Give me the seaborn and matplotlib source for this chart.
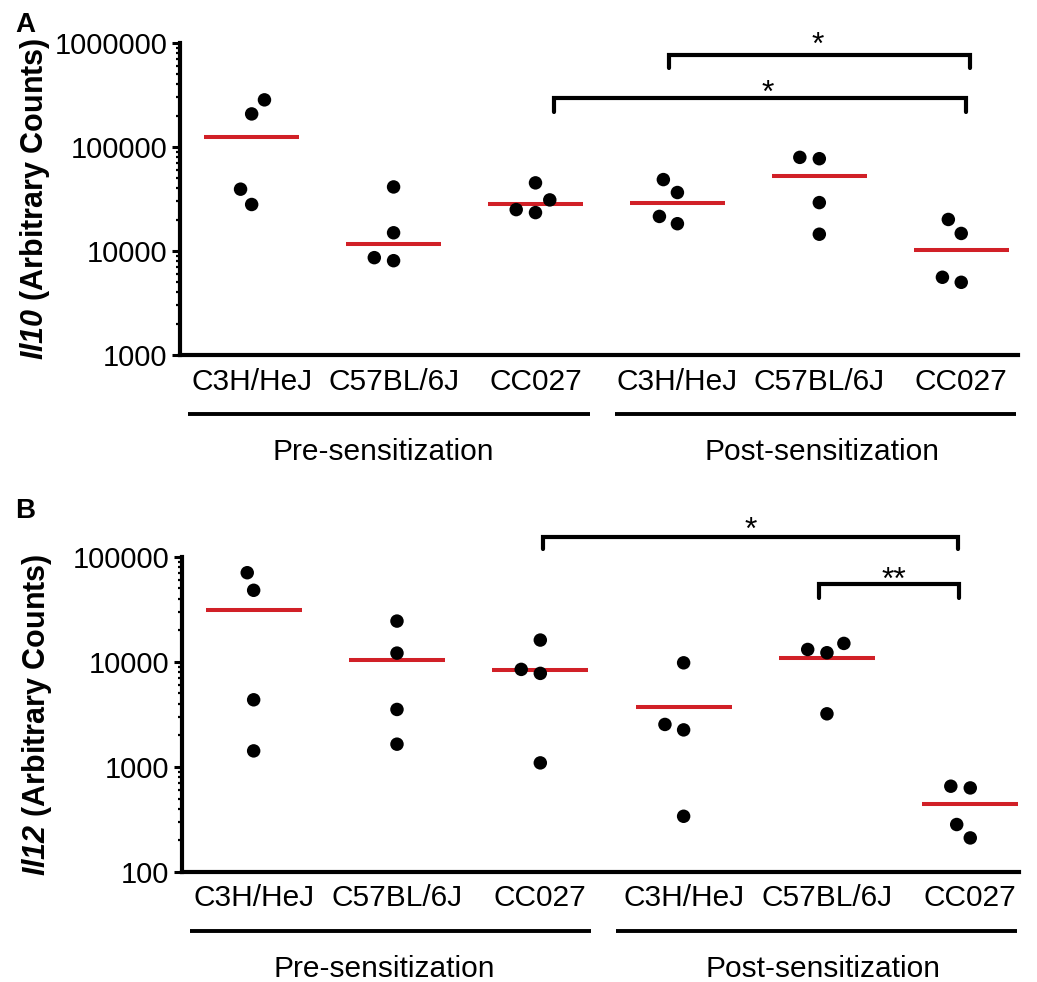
import numpy as np
import pandas as pd
import seaborn as sns
import matplotlib.pyplot as plt
from matplotlib.ticker import LogLocator, FuncFormatter, NullFormatter

sns.set_style("ticks")
plt.rcParams["font.family"] = ["Liberation Sans", "DejaVu Sans"]
plt.rcParams["mathtext.fontset"] = "custom"
plt.rcParams["mathtext.rm"] = "Liberation Sans"
plt.rcParams["mathtext.bf"] = "Liberation Sans:bold"
plt.rcParams["mathtext.it"] = "Liberation Sans:italic"
plt.rcParams["mathtext.bfit"] = "Liberation Sans:bold:italic"
for k in ["text.color", "axes.labelcolor", "xtick.color", "ytick.color", "axes.edgecolor"]:
    plt.rcParams[k] = "black"

strains = ["C3H/HeJ", "C57BL/6J", "CC027"]
phases = ["Pre-sensitization", "Post-sensitization"]

# Il10 counts, 4 mice per group (panel A)
il10_pre_c3h = [284000, 208000, 39300, 28000]
il10_pre_b6 = [41300, 14970, 8630, 8070]
il10_pre_cc027 = [45200, 31000, 23400, 25000]
il10_post_c3h = [48600, 36500, 21500, 18300]
il10_post_b6 = [77200, 79500, 29200, 14500]
il10_post_cc027 = [20100, 14750, 5590, 5000]

# Il12 counts (panel B)
il12_pre_c3h = [70400, 47900, 4350, 1420]
il12_pre_b6 = [24400, 12100, 3520, 1645]
il12_pre_cc027 = [16100, 8470, 7760, 1092]
il12_post_c3h = [9780, 2535, 2250, 339]
il12_post_b6 = [13100, 12200, 14960, 3200]
il12_post_cc027 = [655, 631, 283, 211]

order = [f"{p} {s}" for p in ["Pre", "Post"] for s in strains]

RED = "#d12027"


def make_df(groups):
    rows = []
    for key, vals in zip(order, groups):
        for v in vals:
            rows.append({"group": key, "value": v})
    return pd.DataFrame(rows)


dfA = make_df([il10_pre_c3h, il10_pre_b6, il10_pre_cc027,
               il10_post_c3h, il10_post_b6, il10_post_cc027])
dfB = make_df([il12_pre_c3h, il12_pre_b6, il12_pre_cc027,
               il12_post_c3h, il12_post_b6, il12_post_cc027])

fig = plt.figure(figsize=(10.37, 9.82), dpi=100)
W, H = 1037, 982
axA = fig.add_axes([180 / W, 1 - 355 / H, 838 / W, 312 / H])
axB = fig.add_axes([182 / W, 1 - 872 / H, 837 / W, 315.3 / H])


def panel(ax, df, estimator, ylim, xlim, ylabel, brackets):
    sns.swarmplot(data=df, x="group", y="value", order=order, color="black",
                  size=9.7, linewidth=3.7, edgecolor="none", log_scale=True,
                  ax=ax, zorder=3)
    centers = df.groupby("group")["value"].agg(estimator).reindex(order)
    ax.hlines(centers.values, np.arange(6) - 0.335, np.arange(6) + 0.335,
              color=RED, lw=2.9, zorder=2)
    ax.set_ylim(*ylim)
    ax.set_xlim(*xlim)
    ax.yaxis.set_major_locator(LogLocator(base=10, numticks=10))
    ax.yaxis.set_minor_locator(LogLocator(base=10, subs=np.arange(2, 10), numticks=20))
    ax.yaxis.set_major_formatter(FuncFormatter(lambda v, p: f"{v:.0f}"))
    ax.yaxis.set_minor_formatter(NullFormatter())
    ax.set_xticks(range(6))
    ax.set_xticklabels(strains * 2)
    ax.tick_params(axis="x", length=0, pad=9, labelsize=21.5)
    ax.tick_params(axis="y", which="major", length=6, width=2.2, pad=3, labelsize=21)
    ax.tick_params(axis="y", which="minor", length=3, width=1.6)
    for s in ["top", "right"]:
        ax.spines[s].set_visible(False)
    for s in ["left", "bottom"]:
        ax.spines[s].set_linewidth(3)
    ax.set_xlabel("")
    ax.set_ylabel(ylabel, fontsize=22, fontweight="bold")
    ax.yaxis.set_label_coords(-0.153, 0.5)

    # group underlines and labels below the strain names
    hpx = ax.get_position().height * H
    for (x0, x1, tx), name in zip([(0.0095, 0.489, 0.242), (0.519, 0.9976, 0.766)], phases):
        ax.plot([x0, x1], [-59 / hpx] * 2, transform=ax.transAxes, color="black",
                lw=2.8, clip_on=False, solid_capstyle="butt")
        ax.text(tx, -97 / hpx, name, transform=ax.transAxes, ha="center",
                va="center", fontsize=21.5)

    # significance brackets
    for x0, x1, y, ybot, label, tx, dy in brackets:
        ax.plot([x0, x0, x1, x1], [ybot, y, y, ybot], color="black", lw=3,
                clip_on=False, solid_joinstyle="miter")
        ax.annotate(label, xy=(tx, y), xytext=(0, dy), textcoords="offset points",
                    ha="center", va="baseline", fontsize=23, annotation_clip=False)


panel(axA, dfA, "median", (1000, 1e6), (-0.505, 5.4),
      r"$\mathbfit{Il10}$ (Arbitrary Counts)",
      [(2.943, 5.062, 767000, 576000, "*", 3.99, 0.5),
       (2.128, 5.031, 297000, 219000, "*", 3.639, -3)])
panel(axB, dfB, "mean", (100, 1e5), (-0.5, 5.34),
      r"$\mathbfit{Il12}$ (Arbitrary Counts)",
      [(2.017, 4.917, 155000, 117600, "*", 3.47, -1.5),
       (3.945, 4.922, 54600, 40200, "**", 4.47, -3)])

fig.text(15 / W, 1 - 32 / H, "A", fontsize=20, fontweight="bold", va="baseline")
fig.text(15 / W, 1 - 518 / H, "B", fontsize=20, fontweight="bold", va="baseline")

fig.savefig("out.png", dpi=100)
